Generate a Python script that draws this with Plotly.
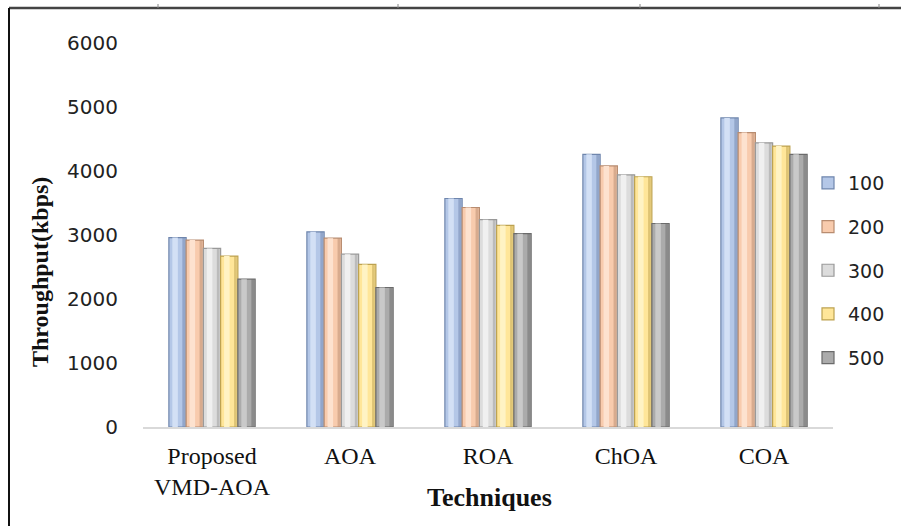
import plotly.graph_objects as go

# Techniques on the x axis and throughput (kbps) for each setting
techniques = ["Proposed<br>VMD-AOA", "AOA", "ROA", "ChOA", "COA"]
series_names = ["100", "200", "300", "400", "500"]
tp_100 = [2960, 3050, 3570, 4260, 4830]
tp_200 = [2920, 2950, 3430, 4080, 4600]
tp_300 = [2790, 2700, 3240, 3940, 4440]
tp_400 = [2670, 2540, 3150, 3910, 4390]
tp_500 = [2310, 2180, 3020, 3180, 4260]
y_ticks = [0, 1000, 2000, 3000, 4000, 5000, 6000]

all_series = [tp_100, tp_200, tp_300, tp_400, tp_500]

# body, highlight and shadow tones per series (cylinder-like shading)
body = ["#b4c7e7", "#f8cbad", "#dcdcdc", "#ffe699", "#ababab"]
light = ["#d3e0f5", "#fde2cf", "#f0f0f0", "#fff3c4", "#c9c9c9"]
dark = ["#6f86ad", "#b88c70", "#999999", "#bda250", "#6b6b6b"]

# figure geometry in pixels
W, H = 901, 526
L, R, T, B = 143, 68, 43, 99
pw, ph = W - L - R, H - T - B


def px_x(p):
    return (p - L) / pw


def px_y(p):
    return (H - B - p) / ph


bar_w = 0.125
group_w = bar_w * len(all_series)

fig = go.Figure()
for i, (name, vals) in enumerate(zip(series_names, all_series)):
    off = -group_w / 2 + i * bar_w
    fig.add_trace(go.Bar(
        x=techniques, y=vals, name=name, width=bar_w, offset=off,
        marker=dict(color=body[i], line=dict(color=dark[i], width=1.2)),
        legendgroup=name,
    ))
    # highlight stripe
    fig.add_trace(go.Bar(
        x=techniques, y=vals, width=bar_w * 0.32, offset=off + bar_w * 0.2,
        marker=dict(color=light[i], line=dict(width=0)),
        showlegend=False, hoverinfo="skip", legendgroup=name,
    ))
    # shadow on the right side
    fig.add_trace(go.Bar(
        x=techniques, y=vals, width=bar_w * 0.16, offset=off + bar_w * 0.78,
        marker=dict(color=dark[i], line=dict(width=0), opacity=0.5),
        showlegend=False, hoverinfo="skip", legendgroup=name,
    ))

shapes = [
    # outer frame: top and left edges
    dict(type="line", xref="paper", yref="paper",
         x0=px_x(9), x1=px_x(W), y0=px_y(8), y1=px_y(8),
         line=dict(color="#444444", width=2.5)),
    dict(type="line", xref="paper", yref="paper",
         x0=px_x(9), x1=px_x(9), y0=px_y(8), y1=px_y(H),
         line=dict(color="#111111", width=2)),
]
for tx in [158, 398, 640, 879]:
    shapes.append(dict(type="line", xref="paper", yref="paper",
                       x0=px_x(tx), x1=px_x(tx), y0=px_y(8), y1=px_y(4),
                       line=dict(color="#888888", width=1)))

fig.update_layout(
    width=W, height=H,
    margin=dict(l=L, r=R, t=T, b=B, autoexpand=False),
    paper_bgcolor="white", plot_bgcolor="white",
    barmode="overlay",
    showlegend=True,
    legend=dict(
        x=px_x(808), y=px_y(164), xanchor="left", yanchor="top",
        font=dict(family="DejaVu Sans", size=19, color="#222222"),
        tracegroupgap=16, itemwidth=30,
        bgcolor="rgba(0,0,0,0)",
    ),
    xaxis=dict(
        type="category", categoryorder="array", categoryarray=techniques,
        showline=True, linecolor="#d9d9d9", linewidth=1.5,
        showgrid=False, ticks="", zeroline=False,
        tickfont=dict(family="Liberation Serif", size=24, color="#111111"),
        ticklabelstandoff=6,
    ),
    yaxis=dict(
        range=[0, 6000], tickvals=y_ticks, showgrid=False, zeroline=False,
        showline=False, ticks="",
        tickfont=dict(family="DejaVu Sans", size=20, color="#222222"),
        ticklabelstandoff=24,
    ),
    shapes=shapes,
    annotations=[
        dict(text="<b>Techniques</b>", xref="paper", yref="paper",
             x=px_x(489), y=px_y(497), showarrow=False,
             xanchor="center", yanchor="middle",
             font=dict(family="Liberation Serif", size=26, color="#111111")),
        dict(text="<b>Throughput(kbps)</b>", xref="paper", yref="paper",
             x=px_x(40), y=px_y(272), showarrow=False, textangle=-90,
             xanchor="center", yanchor="middle",
             font=dict(family="Liberation Serif", size=24, color="#111111")),
    ],
)

fig.write_html("out.html")
